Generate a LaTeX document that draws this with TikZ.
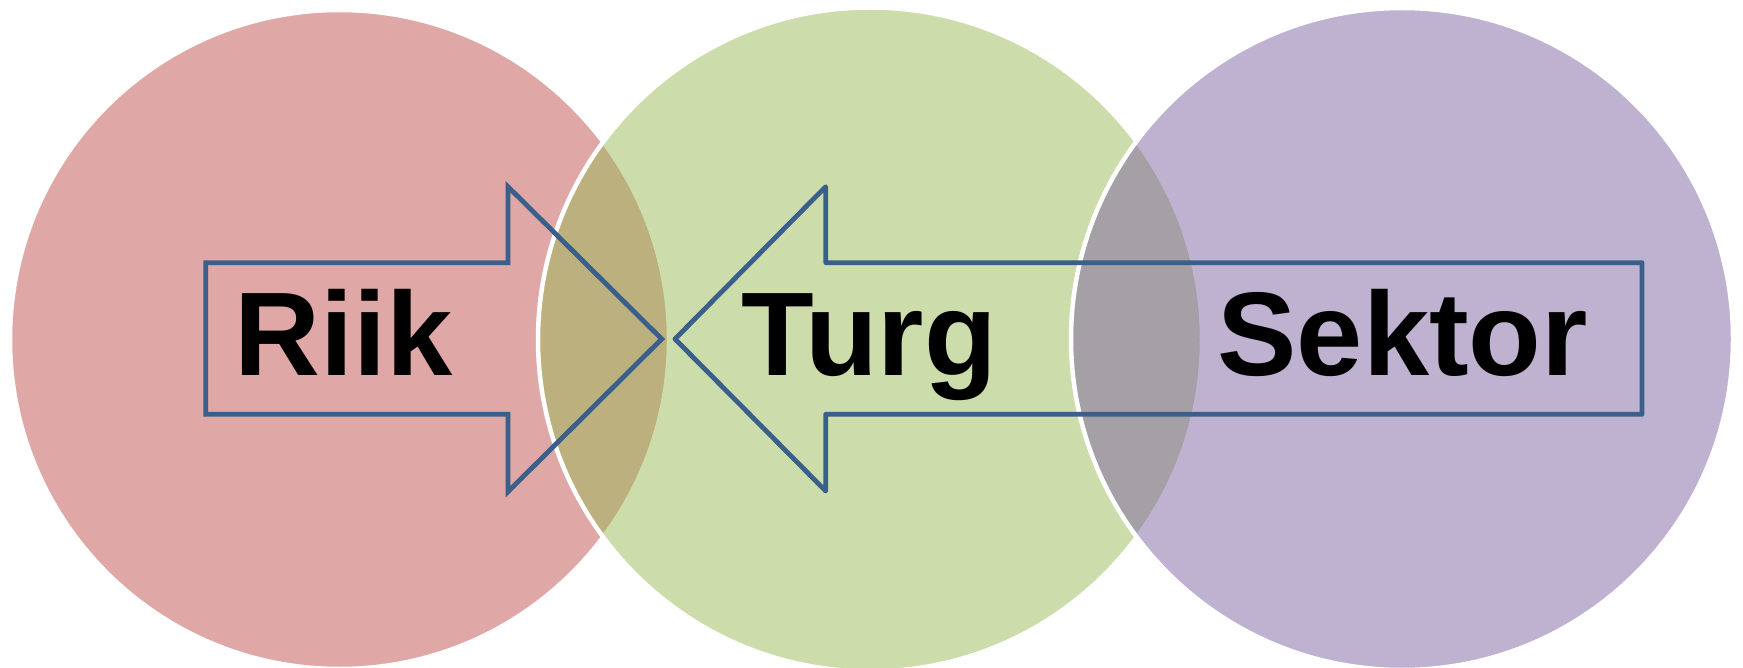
\documentclass[tikz,border=0pt]{standalone}
\usepackage{fontspec}
\setmainfont{Liberation Sans}
\definecolor{cred}{HTML}{C0504D}
\definecolor{cgreen}{HTML}{9BBB59}
\definecolor{cpurple}{HTML}{8064A2}
\definecolor{arrowblue}{HTML}{3A5F8B}
\begin{document}
\begin{tikzpicture}[x=1pt,y=-1pt,
  venn/.style={draw=white, line width=4.5pt, fill opacity=0.5},
  arrowline/.style={draw=arrowblue, line width=4.8pt},
  bigtext/.style={font=\fontsize{119}{119}\selectfont\bfseries, inner sep=0pt, anchor=base, text=black}]
\useasboundingbox (0,0) rectangle (1743,668);
\clip (0,0) rectangle (1743,668);
\fill[white] (0,0) rectangle (1743,668);
% circles
\draw[venn, fill=cred]    (339.5,339.5) circle[radius=329.5pt];
\draw[venn, fill=cgreen]  (870,339.5)   circle[radius=332pt];
\draw[venn, fill=cpurple] (1402,339)    circle[radius=331pt];
% right-pointing arrow (Riik)
\draw[arrowline, line join=miter]
  (205.7,262.7) -- (508,262.7) -- (508,186.7) -- (661.7,339)
  -- (508,491.7) -- (508,414.3) -- (205.7,414.3) -- cycle;
% left-pointing arrow (Turg / Sektor)
\draw[arrowline, line join=round]
  (675,339) -- (825.7,186.7) -- (825.7,262.7) -- (1642,262.7)
  -- (1642,414.3) -- (825.7,414.3) -- (825.7,491) -- cycle;
% texts
\node[bigtext] (riik)   at (344,375.5)    {Riik};
\node[bigtext] (turg)   at (869,375.5)    {Turg};
\node[bigtext] (sektor) at (1402.7,375.5) {Sektor};
\end{tikzpicture}
\end{document}
